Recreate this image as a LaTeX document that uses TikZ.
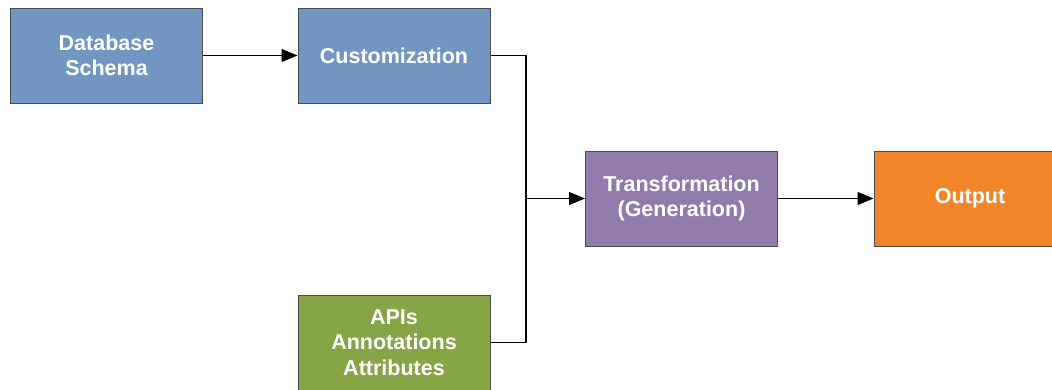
\documentclass[tikz,border=0pt]{standalone}
\usepackage{fontspec}
\setmainfont{Liberation Sans}
\usetikzlibrary{arrows.meta}
\definecolor{cblue}{RGB}{113,150,193}
\definecolor{cpurple}{RGB}{145,122,172}
\definecolor{cgreen}{RGB}{134,165,70}
\definecolor{corange}{RGB}{241,133,41}
\begin{document}
\begin{tikzpicture}[x=1pt,y=-1pt,
 box/.style={draw=black!70, line width=1pt, minimum width=192pt, minimum height=95pt, inner sep=0pt,
   font=\fontsize{21.5}{25.5}\selectfont\bfseries, text=white, align=center},
 conn/.style={line width=1.1pt, -{Triangle[length=16pt,width=13pt]}},
 wire/.style={line width=1.1pt}]
\useasboundingbox (0,0) rectangle (1052,389);
\node[box, fill=cblue] (db) at (106.5,55.5) {Database\\Schema};
\node[box, fill=cblue] (cust) at (394,55.5) {Customization\\[-25.5pt]\phantom{x}};
\node[box, fill=cpurple] (trans) at (681.5,198.5) {Transformation\\(Generation)};
\node[box, fill=corange] (out) at (970,198.5) {Output};
\node[box, fill=cgreen] (api) at (394,342.5) {APIs\\Annotations\\Attributes};
\coordinate (j) at (526,198.5);
\draw[conn] (db.east) -- (cust.west);
\draw[wire] (cust.east) -| (j);
\draw[wire] (api.east) -| (j);
\draw[conn] (j) -- (trans.west);
\draw[conn] (trans.east) -- (out.west);
\end{tikzpicture}
\end{document}
